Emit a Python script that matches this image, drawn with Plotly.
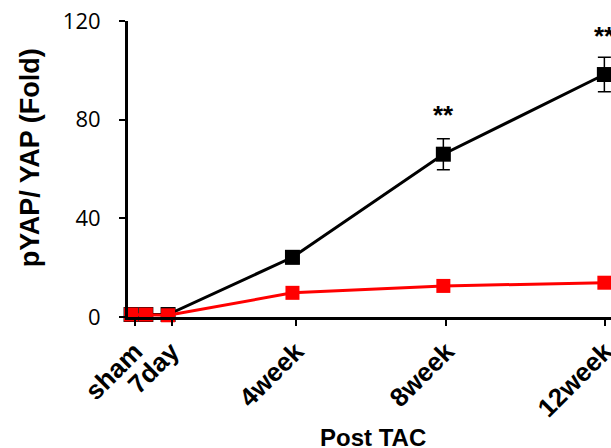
import plotly.graph_objects as go

# Data
tick_labels = ["sham", "7day", "4week", "8week", "12week"]
tick_pos = [-0.04, 0.9, 4.09, 7.95, 12.01]
x_pos = [-0.14, 0.24, 0.81, 4.0, 7.87, 12.0]
black_vals = [1.0, 1.0, 1.0, 24.2, 66.0, 98.3]
black_err = [0.8, 0.8, 0.8, 2.5, 6.3, 7.0]
red_vals = [1.0, 1.0, 0.7, 9.8, 12.6, 13.9]
red_err = [0.3, 0.3, 0.3, 0.5, 0.6, 0.6]
sig_pos = [7.87, 12.0]
sig_y = [82, 114]
sig_text = ["**", "**"]

W, H = 611, 448
L, R, T, B = 128, 0, 20.7, 131.3
pw = W - L - R
ph = H - T - B

fig = go.Figure()
fig.add_trace(go.Scatter(
    x=x_pos, y=black_vals, mode="lines+markers",
    line=dict(color="black", width=3),
    marker=dict(symbol="square", size=15, color="black"),
    error_y=dict(type="data", array=black_err, color="black", thickness=1.5, width=6.5),
    cliponaxis=False, showlegend=False))
fig.add_trace(go.Scatter(
    x=x_pos, y=red_vals, mode="lines+markers",
    line=dict(color="#ff0000", width=3),
    marker=dict(symbol="square", size=14, color="#ff0000"),
    error_y=dict(type="data", array=red_err, color="#ff0000", thickness=1.5, width=5),
    cliponaxis=False, showlegend=False))

for xs, ys, tx in zip(sig_pos, sig_y, sig_text):
    fig.add_annotation(x=xs, y=ys, text="<b>%s</b>" % tx, showarrow=False, xref="x", yref="y",
                       font=dict(family="Liberation Sans, Arial", size=26, color="black"),
                       yanchor="middle", xanchor="center")

fig.add_annotation(xref="paper", yref="paper", x=(30 - L) / pw, y=(T + ph - 158) / ph,
                   text="<b>pYAP/ YAP (Fold)</b>", textangle=-90, showarrow=False,
                   font=dict(family="Liberation Sans, Arial", size=27, color="black"),
                   xanchor="center", yanchor="middle")
fig.add_annotation(xref="paper", yref="paper", x=(373 - L) / pw, y=(T + ph - 437) / ph,
                   text="<b>Post TAC</b>", showarrow=False,
                   font=dict(family="Liberation Sans, Arial", size=24, color="black"),
                   xanchor="center", yanchor="middle")

fig.update_layout(
    width=W, height=H,
    margin=dict(l=L, r=R, t=T, b=B, pad=0, autoexpand=False),
    paper_bgcolor="white", plot_bgcolor="white",
    xaxis=dict(range=[-0.218, 12.17], tickmode="array", tickvals=tick_pos,
               ticktext=["<b>%s</b>" % t for t in tick_labels], tickangle=-45,
               ticks="outside", ticklen=6, tickwidth=2, tickcolor="black",
               ticklabeloverflow="allow", automargin=False,
               showline=True, linecolor="black", linewidth=3, showgrid=False, zeroline=False,
               tickfont=dict(family="Liberation Sans, Arial", size=26, color="black")),
    yaxis=dict(range=[0, 120], tickvals=[0, 40, 80, 120],
               ticks="outside", ticklen=6, tickwidth=2, tickcolor="black",
               ticklabelstandoff=14, automargin=False,
               showline=True, linecolor="black", linewidth=3, showgrid=False, zeroline=False,
               tickfont=dict(family="Open Sans", size=22, color="black")),
)

fig.write_html("out.html")
